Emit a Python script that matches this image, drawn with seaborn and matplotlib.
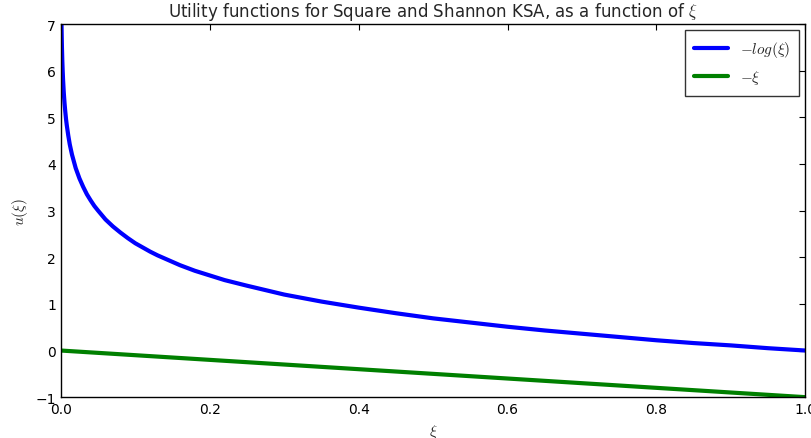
import matplotlib
matplotlib.use("Agg")
import matplotlib.pyplot as plt
import seaborn as sns
import pandas as pd

# values
xi = [0.0009, 0.0012, 0.0015, 0.002, 0.0025, 0.003, 0.004, 0.005, 0.006, 0.007,
      0.008, 0.01, 0.012, 0.015, 0.02, 0.025, 0.03, 0.035, 0.04, 0.045, 0.05,
      0.06, 0.07, 0.08, 0.09, 0.1, 0.11, 0.12, 0.13, 0.14, 0.16, 0.18, 0.2,
      0.22, 0.25, 0.3, 0.35, 0.4, 0.45, 0.5, 0.55, 0.6, 0.65, 0.7, 0.75, 0.8,
      0.85, 0.9, 0.95, 1.0]
u_log = [7.01, 6.73, 6.50, 6.21, 5.99, 5.81, 5.52, 5.30, 5.12, 4.96,
         4.83, 4.61, 4.42, 4.20, 3.91, 3.69, 3.51, 3.35, 3.22, 3.10, 3.00,
         2.81, 2.66, 2.53, 2.41, 2.30, 2.21, 2.12, 2.04, 1.97, 1.83, 1.71, 1.61,
         1.51, 1.39, 1.20, 1.05, 0.92, 0.80, 0.69, 0.60, 0.51, 0.43, 0.36, 0.29, 0.22,
         0.16, 0.11, 0.05, 0.00]
xi_lin = [0.0, 1.0]
u_lin = [0.0, -1.0]

sns.set_style("white")
plt.rcParams['font.family'] = ['DejaVu Sans']
plt.rcParams['mathtext.fontset'] = 'cm'

fig = plt.figure(figsize=(8.11, 4.39), dpi=100)
ax = fig.add_axes([0.075, 0.093, 0.918, 0.85])

df_log = pd.DataFrame({'xi': xi, 'u': u_log})
df_lin = pd.DataFrame({'xi': xi_lin, 'u': u_lin})
sns.lineplot(data=df_log, x='xi', y='u', ax=ax, color='blue', linewidth=3,
             sort=False, label=r'$-log(\xi)$')
sns.lineplot(data=df_lin, x='xi', y='u', ax=ax, color='green', linewidth=3,
             sort=False, label=r'$-\xi$')

ax.set_xlim(0, 1)
ax.set_ylim(-1, 7)
ax.set_xticks([0.0, 0.2, 0.4, 0.6, 0.8, 1.0])
ax.set_yticks(range(-1, 8))
ax.tick_params(direction='in', top=True, right=True, length=4, labelsize=10,
               colors='black')
for s in ax.spines.values():
    s.set_color('black')
    s.set_linewidth(1)

ax.set_title(r'Utility functions for Square and Shannon KSA, as a function of $\xi$',
             fontsize=12)
ax.set_xlabel(r'$\xi$', fontsize=11)
ax.set_ylabel(r'$u(\xi)$', fontsize=11)

leg = ax.legend(loc='upper right', fancybox=False, frameon=True, fontsize=11,
                handlelength=2.2, borderpad=0.6, labelspacing=0.6,
                borderaxespad=0.4)
leg.get_frame().set_edgecolor('black')
leg.get_frame().set_linewidth(1)

fig.savefig('out.png', dpi=100)
